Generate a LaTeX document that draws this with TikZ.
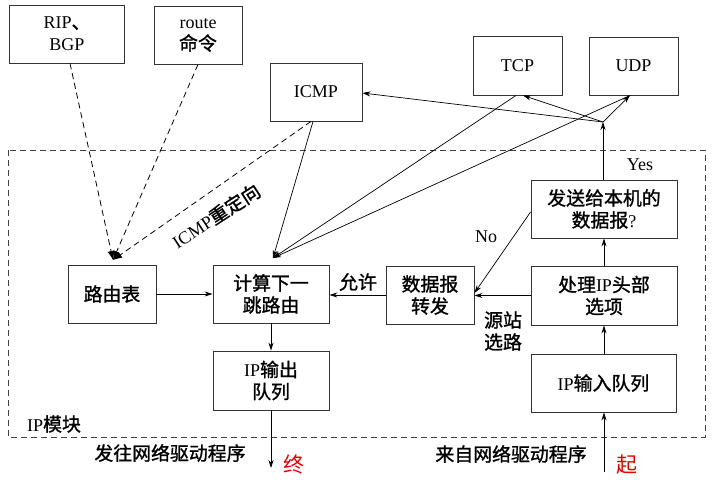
\documentclass[tikz,border=0pt]{standalone}
\usepackage{fontspec}
\setmainfont{Liberation Serif}
\newfontfamily\cjk{Noto Sans CJK SC}[Scale=1.05,FakeBold=1.2]
\newfontfamily\cjkthin{Noto Sans CJK SC}
\newcommand\zh[1]{{\cjk #1}}
\usetikzlibrary{arrows.meta}
\begin{document}
\begin{tikzpicture}[x=1pt,y=-1pt,
  every node/.style={font=\fontsize{18}{22}\selectfont},
  box/.style={draw=black!80,line width=0.9pt,inner sep=0pt,align=center},
  arr/.style={line width=0.7pt,-{Stealth[length=8pt,width=5pt]}},
  darr/.style={line width=0.8pt,dash pattern=on 6pt off 4pt,-{Latex[length=9pt,width=7pt]}},
  lbl/.style={inner sep=0pt,align=center},
  red/.style={lbl,text=red!90!black,font=\fontsize{21}{24}\selectfont\cjkthin}]
\useasboundingbox (0,0) rectangle (726,486);
\fill[white] (0,0) rectangle (726,486);
% IP module
\draw[black!75,line width=0.8pt,dash pattern=on 6pt off 4pt] (8,150) rectangle (705,437);
% boxes
\node[box,minimum width=115pt,minimum height=58pt] (rip) at (67,34) {RIP\zh{、}\\BGP};
\node[box,minimum width=88pt,minimum height=58pt] (route) at (198,35) {route\\\zh{命令}};
\node[box,minimum width=92pt,minimum height=58pt] (icmp) at (316,92) {ICMP};
\node[box,minimum width=89pt,minimum height=59pt] (tcp) at (517.5,65.5) {TCP};
\node[box,minimum width=89pt,minimum height=58pt] (udp) at (633.5,66) {UDP};
\node[box,minimum width=146pt,minimum height=58pt] (send) at (604,209) {\zh{发送给本机的}\\\zh{数据报}?};
\node[box,minimum width=146pt,minimum height=59pt] (proc) at (604,295.5) {\zh{处理}IP\zh{头部}\\\zh{选项}};
\node[box,minimum width=145pt,minimum height=58pt] (inq) at (603.5,383) {IP\zh{输入队列}};
\node[box,minimum width=88pt,minimum height=58pt] (fwd) at (430,295) {\zh{数据报}\\\zh{转发}};
\node[box,minimum width=116pt,minimum height=58pt] (calc) at (271,294) {\zh{计算下一}\\\zh{跳路由}};
\node[box,minimum width=88pt,minimum height=58pt] (rt) at (112,294) {\zh{路由表}};
\node[box,minimum width=116pt,minimum height=59pt] (outq) at (271,380.5) {IP\zh{输出}\\\zh{队列}};
% helper coordinates
\coordinate (j) at (603,122);
\coordinate (rtin) at (113,260);
\coordinate (calcin) at (273,258);
\coordinate (outend) at (271,468);
\coordinate (instart) at (604,472);
% dashed arrows to routing table
\draw[darr] (rip.south -| 70,0) -- (rtin);
\draw[darr] (route.south) -- (rtin);
\draw[darr] (icmp.south -| 311,0) -- (rtin);
% solid arrows to calc
\draw[arr] (icmp.south -| 313,0) -- (calcin);
\draw[arr] (tcp.south -| 516,0) -- (calcin);
\draw[arr] (udp.south -| 630,0) -- (calcin);
% from send upward
\draw[arr] (send.north -| j) -- (j);
\draw[arr] (j) -- (icmp.east |- 0,93);
\draw[arr] (j) -- (tcp.south -| 523,0);
\draw[arr] (j) -- (udp.south -| 630,0);
% No
\draw[arr] (send.west |- 0,212) -- (fwd.east |- 0,293);
% internal flow
\draw[arr] (proc.west) -- (fwd.east |- proc.west);
\draw[arr] (fwd.west) -- (calc.east |- fwd.west);
\draw[arr] (rt.east) -- (calc.west |- rt.east);
\draw[arr] (calc.south) -- (outq.north);
\draw[arr] (outq.south) -- (outend);
\draw[arr] (instart) -- (inq.south -| instart);
\draw[arr] (inq.north -| instart) -- (proc.south -| instart);
\draw[arr] (proc.north -| instart) -- (send.south -| instart);
% labels
\node[lbl] (yes) at (640,165) {Yes};
\node[lbl] (no) at (486,237) {No};
\node[lbl] (allow) at (358,282) {\zh{允许}};
\node[lbl] (srcroute) at (503,331) {\zh{源站}\\\zh{选路}};
\node[lbl,rotate=33] (redir) at (216,216) {ICMP\zh{重定向}};
\node[lbl] (ipmod) at (54,424) {IP\zh{模块}};
\node[lbl] (tonet) at (170,453) {\zh{发往网络驱动程序}};
\node[lbl] (fromnet) at (511,454) {\zh{来自网络驱动程序}};
\node[red] (zhong) at (294,464) {终};
\node[red] (qi) at (627,465) {起};
\end{tikzpicture}
\end{document}
